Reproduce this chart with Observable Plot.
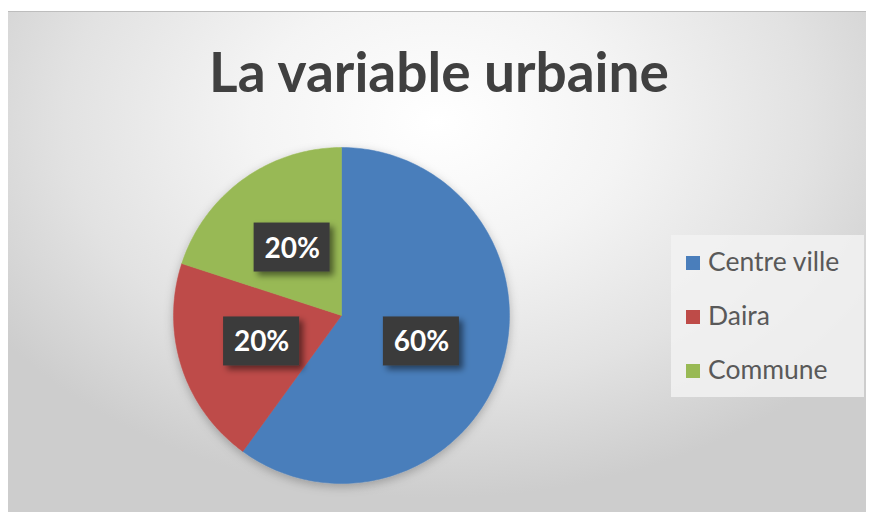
<!DOCTYPE html>
<html>
<head>
<meta charset="utf-8">
<script src="https://cdn.jsdelivr.net/npm/d3@7"></script>
<script src="https://cdn.jsdelivr.net/npm/@observablehq/plot@0.6"></script>
<style>
  html, body { margin: 0; padding: 0; background: #ffffff; }
  #wrap { position: relative; width: 872px; height: 512px; overflow: hidden; background: #ffffff; }
  #panel {
    position: absolute; left: 8px; top: 11px; width: 858px; height: 501px;
    background: radial-gradient(ellipse 62% 75% at 50% 22%, #ffffff 0%, #f4f4f4 35%, #e2e2e2 70%, #cdcdcd 100%);
    border-top: 1px solid #bdbdbd;
  }
  #title {
    position: absolute; left: 0; width: 878px; top: 38px; text-align: center;
    font-family: Lato, "Open Sans", sans-serif; font-weight: 700; font-size: 55px;
    color: #404040; line-height: 66px;
  }
  #legend {
    position: absolute; left: 671px; top: 235px; width: 193px; height: 162px;
    background: rgba(242,242,242,0.85);
    font-family: Lato, "Open Sans", sans-serif; font-size: 26.5px; color: #595959;
  }
  .item { position: absolute; left: 15px; height: 30px; line-height: 30px; white-space: nowrap; }
  .sw { display: inline-block; width: 14px; height: 14px; margin-right: 8px; vertical-align: 1px; }
  #chart { position: absolute; left: 0; top: 0; }
</style>
</head>
<body>
<div id="wrap">
  <div id="panel"></div>
  <div id="chart"></div>
  <div id="title">La variable urbaine</div>
  <div id="legend"></div>
</div>
<script>
const categories = ["Centre ville", "Daira", "Commune"];
const values = [60, 20, 20];
const labels = ["60%", "20%", "20%"];
const colors = ["#4a7ebb", "#be4b48", "#98b954"];

// Build slice polygons (Excel style: start at 12 o'clock, clockwise)
const total = d3.sum(values);
const slices = [];
const labelPts = [];
let acc = 0;
values.forEach((v, i) => {
  const a0 = acc / total * 2 * Math.PI;
  acc += v;
  const a1 = acc / total * 2 * Math.PI;
  const n = Math.max(2, Math.ceil((a1 - a0) / (Math.PI / 180)));
  slices.push({cat: categories[i], x: 0, y: 0});
  for (let k = 0; k <= n; k++) {
    const a = a0 + (a1 - a0) * k / n;
    slices.push({cat: categories[i], x: Math.sin(a), y: Math.cos(a)});
  }
  slices.push({cat: categories[i], x: 0, y: 0});
  const am = (a0 + a1) / 2;
  labelPts.push({cat: categories[i], label: labels[i], x: 0.5 * Math.sin(am), y: 0.5 * Math.cos(am)});
});

const R = 168; // pixel radius
const bw = 38 / R, bh = 24.5 / R; // half box size in data units

const plot = Plot.plot({
  width: 872,
  height: 512,
  margin: 0,
  style: {background: "transparent", overflow: "visible"},
  x: {domain: [-1, 1], range: [341 - R, 341 + R], axis: null},
  y: {domain: [-1, 1], range: [315 + R, 315 - R], axis: null},
  color: {domain: categories, range: colors},
  marks: [
    Plot.line(slices, {x: "x", y: "y", z: "cat", fill: "cat", stroke: "cat", strokeWidth: 0.5, curve: "linear", className: "pie"}),
    Plot.rect(labelPts, {x1: d => d.x - bw, x2: d => d.x + bw, y1: d => d.y - bh, y2: d => d.y + bh, fill: "#3a3a3a", className: "lbox"}),
    Plot.text(labelPts, {x: "x", y: "y", text: "label", fill: "white", fontSize: 28, fontWeight: 700, fontFamily: "Lato, 'Open Sans', sans-serif", dy: 1})
  ]
});

// shadows
const svg = d3.select(plot);
const defs = svg.insert("defs", ":first-child");
const f1 = defs.append("filter").attr("id", "pieShadow").attr("x", "-20%").attr("y", "-20%").attr("width", "140%").attr("height", "140%");
f1.append("feDropShadow").attr("dx", 0).attr("dy", 3).attr("stdDeviation", 5).attr("flood-color", "#000").attr("flood-opacity", 0.25);
const f2 = defs.append("filter").attr("id", "boxShadow").attr("x", "-30%").attr("y", "-30%").attr("width", "160%").attr("height", "160%");
f2.append("feDropShadow").attr("dx", 4).attr("dy", 4).attr("stdDeviation", 3).attr("flood-color", "#000").attr("flood-opacity", 0.5);
svg.selectAll("g.pie").attr("filter", "url(#pieShadow)");
svg.selectAll("g.lbox").attr("filter", "url(#boxShadow)");

document.getElementById("chart").appendChild(plot);

// legend
const leg = document.getElementById("legend");
categories.forEach((c, i) => {
  const it = document.createElement("div");
  it.className = "item";
  it.style.top = (11 + i * 54) + "px";
  it.innerHTML = `<span class="sw" style="background:${colors[i]}"></span>${c}`;
  leg.appendChild(it);
});
</script>
</body>
</html>
